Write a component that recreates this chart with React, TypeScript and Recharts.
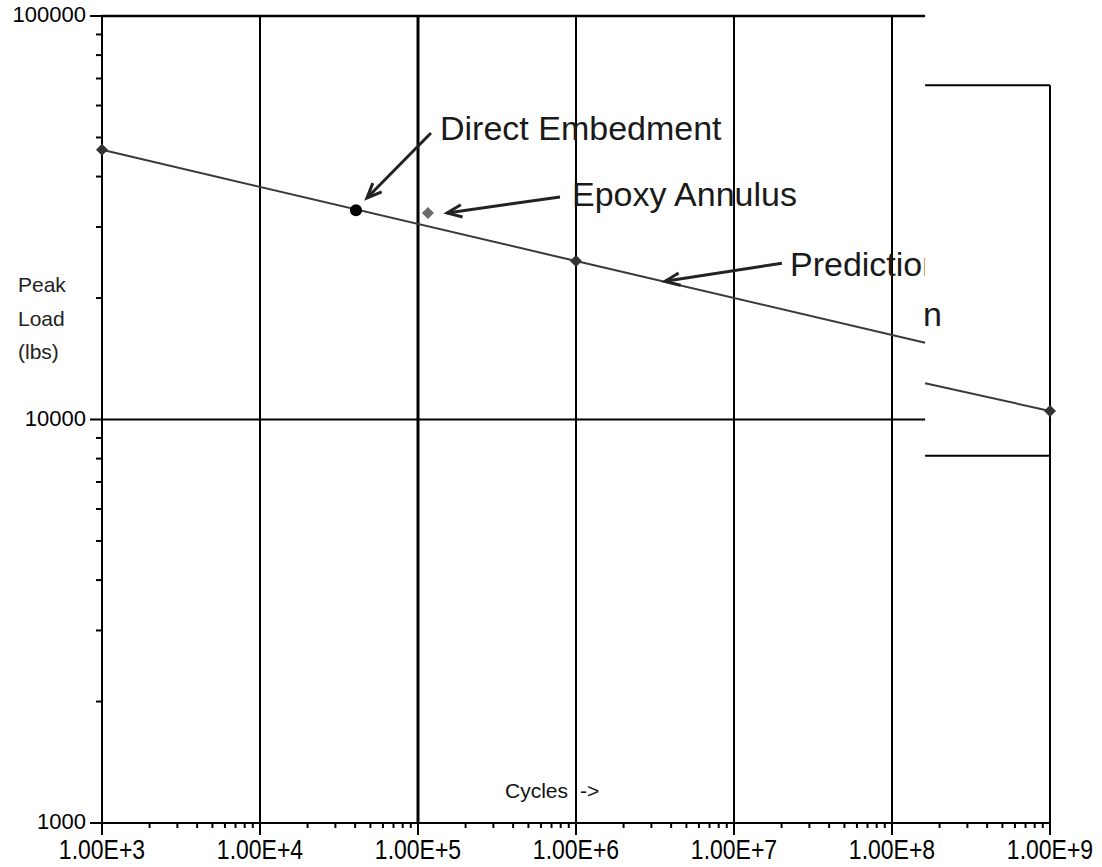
import React from 'react';
import { ComposedChart, Line, Scatter, XAxis, YAxis, ReferenceLine } from 'recharts';

// axis ticks
const X_MAJOR = [1e3, 1e4, 1e5, 1e6, 1e7, 1e8, 1e9];
const X_LABELS = ['1.00E+3', '1.00E+4', '1.00E+5', '1.00E+6', '1.00E+7', '1.00E+8', '1.00E+9'];
const Y_MAJOR = [1000, 10000, 100000];
const Y_LABELS = ['1000', '10000', '100000'];
const MINOR_STEPS = [2, 3, 4, 5, 6, 7, 8, 9];

// prediction line (main part, cut where the inset panel starts)
const predictionCycles = [1e3, 1e6, 1.62e8];
const predictionLoad = [46600, 24700, 15500];
// prediction line inside the pasted inset panel
const insetCycles = [1.62e8, 1e9];
const insetLoad = [12300, 10500];
// prediction markers
const markerCycles = [1e3, 1e6, 1e9];
const markerLoad = [46600, 24700, 10500];
// test results
const directCycles = [40500];
const directLoad = [33000];
const epoxyCycles = [115600];
const epoxyLoad = [32500];

// inset panel edges
const insetLeft = 1.62e8;
const insetTop = 67400;
const insetBottom = 8130;

// annotation arrows: tail -> head
const arrowTailX = [120800, 792000, 20100000];
const arrowTailY = [51300, 35600, 24400];
const arrowHeadX = [47500, 152800, 3660000];
const arrowHeadY = [35400, 32500, 22000];

const zip = (xs: number[], ys: number[]) => xs.map((x, i) => ({ x, y: ys[i] }));

const predictionData = zip(predictionCycles, predictionLoad);
const insetData = zip(insetCycles, insetLoad);
const markerData = zip(markerCycles, markerLoad);
const directData = zip(directCycles, directLoad);
const epoxyData = zip(epoxyCycles, epoxyLoad);

const minorOf = (majors: number[]) =>
  majors.slice(0, -1).flatMap((m) => MINOR_STEPS.map((s) => s * m));

const xTicks = [...X_MAJOR, ...minorOf(X_MAJOR)];
const yTicks = [...Y_MAJOR, ...minorOf(Y_MAJOR)];

const FONT = '"Liberation Sans", Arial, sans-serif';

const XTick = (props: any) => {
  const { x, y, payload } = props;
  const idx = X_MAJOR.indexOf(payload.value);
  const major = idx >= 0;
  return (
    <g>
      <line x1={x} x2={x} y1={y} y2={y + (major ? 12 : 5)} stroke="#000" strokeWidth={2} />
      {major && (
        <text
          transform={`translate(${x},${y + 36}) scale(1,1.2)`}
          textAnchor="middle"
          fontFamily={FONT}
          fontSize={23}
          fill="#000"
        >
          {X_LABELS[idx]}
        </text>
      )}
    </g>
  );
};

const YTick = (props: any) => {
  const { x, y, payload } = props;
  const idx = Y_MAJOR.indexOf(payload.value);
  const major = idx >= 0;
  return (
    <g>
      <line x1={x - (major ? 12 : 6)} x2={x} y1={y} y2={y} stroke="#000" strokeWidth={2} />
      {major && (
        <text x={x - 16} y={y + 6} textAnchor="end" fontFamily={FONT} fontSize={22} fill="#000">
          {Y_LABELS[idx]}
        </text>
      )}
    </g>
  );
};

const Diamond = (props: any) => {
  const { cx, cy } = props;
  const r = 6;
  return <polygon points={`${cx},${cy - r} ${cx + r},${cy} ${cx},${cy + r} ${cx - r},${cy}`} fill={props.fill} />;
};

const Dot = (props: any) => <circle cx={props.cx} cy={props.cy} r={6} fill="#000" />;

const Arrow = (p: any) => {
  const { x1, y1, x2, y2 } = p;
  const ang = Math.atan2(y2 - y1, x2 - x1);
  const L = 16;
  const w = 0.4;
  const ax = x2 - L * Math.cos(ang - w);
  const ay = y2 - L * Math.sin(ang - w);
  const bx = x2 - L * Math.cos(ang + w);
  const by = y2 - L * Math.sin(ang + w);
  return (
    <g>
      <line x1={x1} y1={y1} x2={x2} y2={y2} stroke="#222" strokeWidth={3} />
      <polyline points={`${ax},${ay} ${x2},${y2} ${bx},${by}`} fill="none" stroke="#222" strokeWidth={3} />
    </g>
  );
};

const seg = (x1: number, y1: number, x2: number, y2: number) => [
  { x: x1, y: y1 },
  { x: x2, y: y2 },
];

export default function App() {
  return (
    <div style={{ position: 'absolute', left: 0, top: 0, width: 1102, height: 867, background: '#fff' }}>
      <ComposedChart width={1102} height={867} margin={{ top: 16, right: 52, left: 0, bottom: 0 }}>
        <XAxis
          dataKey="x"
          type="number"
          scale="log"
          domain={[1e3, 1e9]}
          ticks={xTicks}
          interval={0}
          height={44}
          tickSize={0}
          tickMargin={0}
          tickLine={false}
          axisLine={{ stroke: '#000', strokeWidth: 2 }}
          tick={<XTick />}
        />
        <YAxis
          type="number"
          scale="log"
          domain={[1000, 100000]}
          ticks={yTicks}
          interval={0}
          width={102}
          tickSize={0}
          tickMargin={0}
          tickLine={false}
          axisLine={{ stroke: '#000', strokeWidth: 2 }}
          tick={<YTick />}
        />

        {/* vertical gridlines */}
        {X_MAJOR.slice(1, -1).map((v) => (
          <ReferenceLine key={'gx' + v} x={v} stroke="#000" strokeWidth={v === 1e5 ? 3 : 2} />
        ))}
        {/* top border and 10000 gridline stop at the inset panel */}
        <ReferenceLine segment={seg(1e3, 100000, insetLeft, 100000)} stroke="#000" strokeWidth={2.5} />
        <ReferenceLine segment={seg(1e3, 10000, insetLeft, 10000)} stroke="#000" strokeWidth={2} />
        {/* inset panel frame */}
        <ReferenceLine segment={seg(insetLeft, insetTop, 1e9, insetTop)} stroke="#000" strokeWidth={2} />
        <ReferenceLine segment={seg(insetLeft, insetBottom, 1e9, insetBottom)} stroke="#000" strokeWidth={2} />
        <ReferenceLine segment={seg(1e9, insetTop, 1e9, 1000)} stroke="#000" strokeWidth={2} />

        <Line data={predictionData} dataKey="y" stroke="#3a3a3a" strokeWidth={2} dot={false} isAnimationActive={false} />
        <Line data={insetData} dataKey="y" stroke="#3a3a3a" strokeWidth={2} dot={false} isAnimationActive={false} />
        <Scatter data={markerData} dataKey="y" fill="#333" shape={<Diamond />} isAnimationActive={false} />
        <Scatter data={directData} dataKey="y" fill="#000" shape={<Dot />} isAnimationActive={false} />
        <Scatter data={epoxyData} dataKey="y" fill="#6a6a6a" shape={<Diamond />} isAnimationActive={false} />

        {arrowTailX.map((tx, i) => (
          <ReferenceLine
            key={'arrow' + i}
            segment={seg(tx, arrowTailY[i], arrowHeadX[i], arrowHeadY[i])}
            shape={Arrow}
          />
        ))}
      </ComposedChart>

      <svg
        width={1102}
        height={867}
        style={{ position: 'absolute', left: 0, top: 0, pointerEvents: 'none' }}
        fontFamily={FONT}
      >
        <defs>
          <clipPath id="cutPanel">
            <rect x={0} y={0} width={925} height={867} />
          </clipPath>
        </defs>
        <text x={440} y={140} fontSize={34} fill="#1a1a1a">Direct Embedment</text>
        <text x={572} y={206} fontSize={34} fill="#1a1a1a">Epoxy Annulus</text>
        <text x={790} y={276} fontSize={34} fill="#1a1a1a" clipPath="url(#cutPanel)">Prediction</text>
        <text x={923} y={326} fontSize={34} fill="#1a1a1a">n</text>
        <text x={18} y={292} fontSize={21} fill="#222">Peak</text>
        <text x={18} y={326} fontSize={21} fill="#222">Load</text>
        <text x={18} y={359} fontSize={21} fill="#222">(lbs)</text>
        <text x={505} y={798} fontSize={21} fill="#111">Cycles</text>
        <text x={580} y={798} fontSize={21} fill="#111">-&gt;</text>
      </svg>
    </div>
  );
}
